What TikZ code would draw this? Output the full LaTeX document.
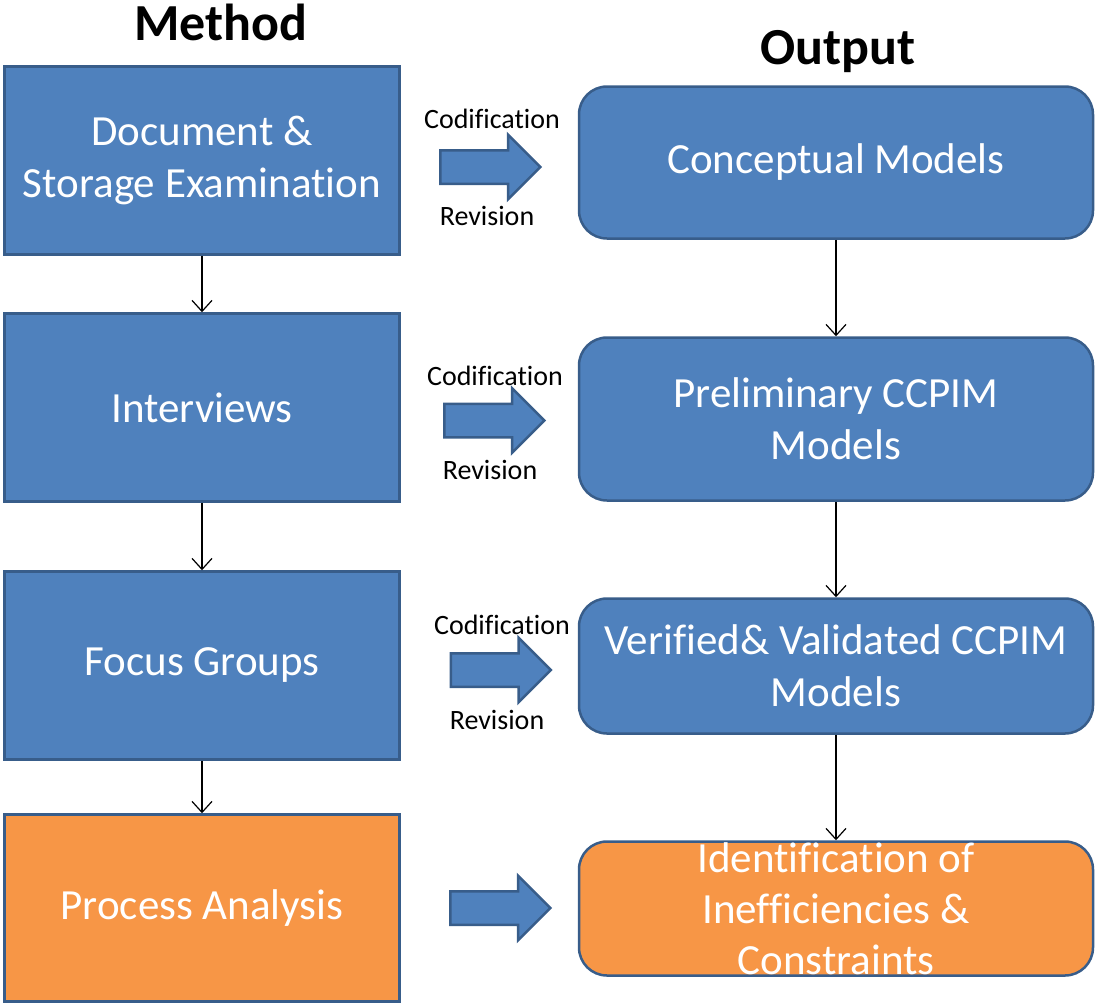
\documentclass[tikz,border=0pt]{standalone}
\usepackage{fontspec}
\setmainfont{Carlito}[Ligatures=NoCommon]
\usetikzlibrary{arrows.meta,shapes.arrows}
\definecolor{boxblue}{HTML}{4F81BD}
\definecolor{edgeblue}{HTML}{385D8A}
\definecolor{boxorange}{HTML}{F79646}

\begin{document}
\begin{tikzpicture}[x=1pt,y=-1pt,
  methodbox/.style={draw=edgeblue, line width=2.5pt, fill=boxblue,
    minimum width=395pt, text=white, align=center, inner sep=0pt,
    font=\fontsize{43}{52}\selectfont},
  outbox/.style={methodbox, rounded corners=28pt, minimum width=514pt},
  orangefill/.style={fill=boxorange},
  flowarrow/.style={draw=black, line width=1.2pt,
    -{Straight Barb[length=11pt,width=20pt,line width=1.2pt]}},
  blockarrow/.style={single arrow, draw=edgeblue, line width=2.5pt, fill=boxblue,
    inner sep=0pt, inner ysep=15.5pt, single arrow head extend=15.5pt,
    single arrow tip angle=90, minimum height=100pt},
  title/.style={font=\bfseries\fontsize{52}{60}\selectfont, anchor=base},
  small/.style={font=\fontsize{28}{32}\selectfont, anchor=base}
]
\useasboundingbox (0,0) rectangle (1096,1005);

% column headings
\node[title] (thead1) at (221,40) {Method};
\node[title] (thead2) at (838,64) {Output};

% method column
\node[methodbox, minimum height=188pt] (m1) at (202,160.5) {Document \&\\Storage Examination};
\node[methodbox, minimum height=188pt] (m2) at (202,407.5) {Interviews};
\node[methodbox, minimum height=188pt] (m3) at (202,665.5) {Focus Groups};
\node[methodbox, orangefill, minimum height=187pt] (m4) at (202,908) {Process Analysis};

% output column
\node[outbox, minimum height=152pt] (o1) at (836,162.5) {Conceptual Models};
\node[outbox, minimum height=163pt] (o2) at (836,419) {Preliminary CCPIM\\Models};
\node[outbox, minimum height=135pt] (o3) at (836,666) {Verified\& Validated CCPIM\\Models};
\node[outbox, orangefill, minimum height=134pt, font=\fontsize{43}{51}\selectfont] (o4) at (836,908.5)
  {Identification of\\Inefficiencies \&\\Constraints};

% vertical flow
\draw[flowarrow] (m1) -- (m2);
\draw[flowarrow] (m2) -- (m3);
\draw[flowarrow] (m3) -- (m4);
\draw[flowarrow] (o1) -- (o2);
\draw[flowarrow] (o2) -- (o3);
\draw[flowarrow] (o3) -- (o4);

% block arrows between the columns
\node[blockarrow] (b1) at (482,167) {};
\node[blockarrow] (b2) at (486,420.5) {};
\node[blockarrow] (b3) at (492.5,670) {};
\node[blockarrow] (b4) at (492,908) {};

% labels on the block arrows
\node[small] (c1) at (492,128) {Codification};
\node[small] (r1) at (487,225) {Revision};
\node[small] (c2) at (495,385) {Codification};
\node[small] (r2) at (490,479) {Revision};
\node[small] (c3) at (502,634) {Codification};
\node[small] (r3) at (497,729) {Revision};
\end{tikzpicture}
\end{document}
